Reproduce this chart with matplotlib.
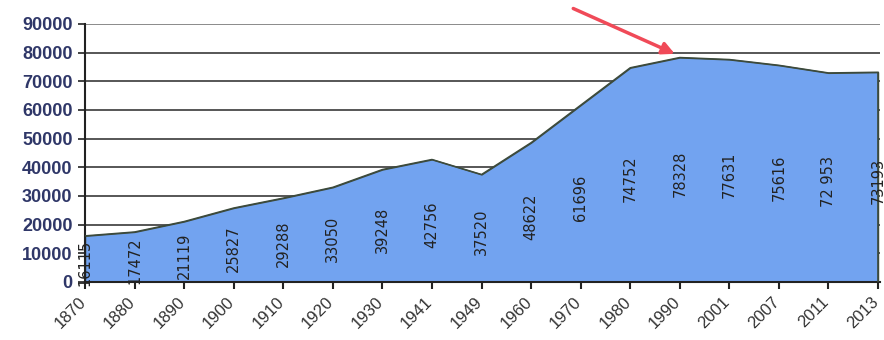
import matplotlib
matplotlib.use("Agg")
import matplotlib.pyplot as plt
import matplotlib.transforms as mtransforms
import numpy as np

# population by census year
years = ['1870', '1880', '1890', '1900', '1910', '1920', '1930', '1941', '1949',
         '1960', '1970', '1980', '1990', '2001', '2007', '2011', '2013']
population = [16115, 17472, 21119, 25827, 29288, 33050, 39248, 42756, 37520,
              48622, 61696, 74752, 78328, 77631, 75616, 72953, 73193]
point_labels = ['16115', '17472', '21119', '25827', '29288', '33050', '39248',
                '42756', '37520', '48622', '61696', '74752', '78328', '77631',
                '75616', '72 953', '73193']
y_ticks = [0, 10000, 20000, 30000, 40000, 50000, 60000, 70000, 80000, 90000]

plt.rcParams['font.family'] = ['Liberation Sans', 'DejaVu Sans']

fig = plt.figure(figsize=(8.84, 3.40), dpi=100)
ax = fig.add_axes([85 / 884, 1 - 282 / 340, 795 / 884, 258 / 340])

x = np.arange(len(years))

for yv in y_ticks[1:]:
    ax.axhline(yv, color='#3a3a3a' if yv < 90000 else '#777777', lw=1.2, zorder=1)

ax.fill_between(x, population, 0, color='#72a3f0', edgecolor='#3c4a3c',
                lw=1.0, zorder=2)
ax.plot(x, population, color='#3c4a3c', lw=1.0, zorder=3)
ax.vlines(x[-1], 0, population[-1], color='#3c4a3c', lw=1.2, zorder=3)

# value labels, vertical, about half-way up the area
lab_shift = mtransforms.ScaledTranslation(0, -0.04, fig.dpi_scale_trans)
for xi, v, lab in zip(x, population, point_labels):
    ax.text(xi, v / 2, lab, rotation=90, ha='center', va='center',
            fontsize=10.5, color='#222222', family='DejaVu Sans', zorder=4,
            transform=ax.transData + lab_shift)

ax.set_xlim(0, len(years) - 1 + 0.04)
ax.set_ylim(0, 90000)
ax.set_yticks(y_ticks)
ax.set_yticklabels([str(t) for t in y_ticks], fontsize=13, fontweight='bold',
                   color='#2f3768')
ax.set_xticks(x)
ax.set_xticklabels([])

# category labels, slanted and sitting just left of each tick
shift = mtransforms.ScaledTranslation(-0.07, -0.12, fig.dpi_scale_trans)
for xi, yr in zip(x, years):
    ax.text(xi, 0, yr, rotation=45, ha='right', va='top', rotation_mode='anchor',
            fontsize=12, color='#333333',
            transform=ax.get_xaxis_transform() + shift)

ax.tick_params(axis='x', length=5, width=1.5, color='#222222')
ax.tick_params(axis='y', length=5, width=1.2, color='#222222', pad=4)

for side in ['top', 'right']:
    ax.spines[side].set_visible(False)
ax.spines['left'].set_color('#222222')
ax.spines['left'].set_linewidth(1.5)
ax.spines['bottom'].set_color('#222222')
ax.spines['bottom'].set_linewidth(1.5)

# red pointer at the peak
ax.annotate('', xy=(11.95, 79200), xytext=(9.8, 95800),
            arrowprops=dict(arrowstyle='-|>', color='#f04a58', lw=2.5,
                            mutation_scale=18),
            annotation_clip=False, zorder=5)

fig.savefig('out.png', dpi=100)
